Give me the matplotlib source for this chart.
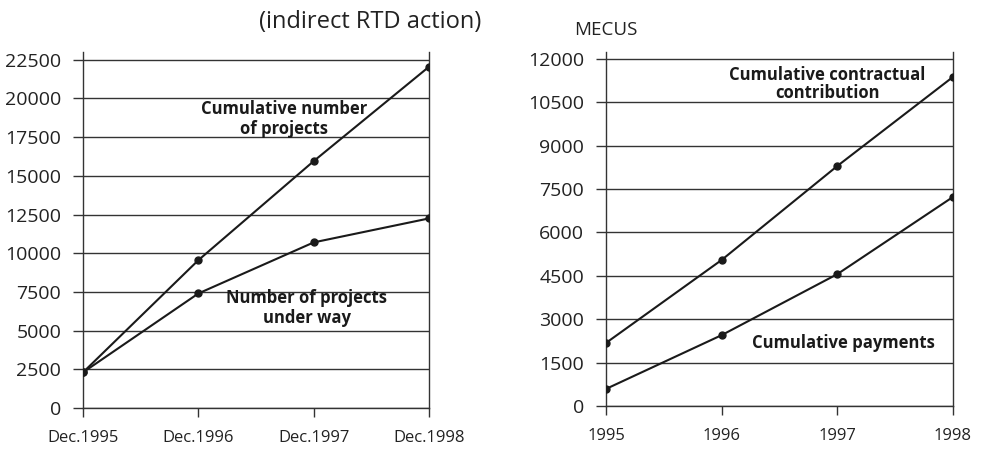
import matplotlib
matplotlib.use("Agg")
import matplotlib.pyplot as plt

plt.rcParams['font.family'] = ['Open Sans', 'DejaVu Sans']

left_cats = ["Dec.1995", "Dec.1996", "Dec.1997", "Dec.1998"]
cum_projects = [2300, 9550, 15950, 22050]
projects_underway = [2300, 7400, 10700, 12250]
left_yticks = [0, 2500, 5000, 7500, 10000, 12500, 15000, 17500, 20000, 22500]

right_cats = ["1995", "1996", "1997", "1998"]
cum_contract = [2180, 5050, 8300, 11380]
cum_payments = [590, 2450, 4560, 7230]
right_yticks = [0, 1500, 3000, 4500, 6000, 7500, 9000, 10500, 12000]

fig = plt.figure(figsize=(9.82, 4.5), dpi=100)
axL = fig.add_axes([0.0845, 0.0933, 0.3524, 0.7911])
axR = fig.add_axes([0.6171, 0.0978, 0.3534, 0.7866])

def style(ax, cats, yticks, ytop, xfs):
    x = list(range(len(cats)))
    ax.set_xlim(0, len(cats) - 1)
    ax.set_ylim(0, ytop)
    ax.set_xticks(x)
    ax.set_xticklabels(cats, fontsize=xfs, color="#222222")
    ax.set_yticks(yticks)
    ax.set_yticklabels([str(v) for v in yticks], fontsize=14, color="#222222")
    for v in yticks:
        ax.axhline(v, color="#333333", lw=1.0, zorder=1)
    ax.spines['top'].set_visible(False)
    for s in ['left', 'right', 'bottom']:
        ax.spines[s].set_color("#333333")
        ax.spines[s].set_linewidth(1.0)
    ax.tick_params(axis='y', direction='out', length=7.2, width=1.0, color="#333333", pad=8.5)
    ax.tick_params(axis='x', direction='out', length=6.5, width=1.0, color="#333333", pad=9.5)
    return x

x = style(axL, left_cats, left_yticks, 23000, 12)
axL.plot(x, cum_projects, color="#1a1a1a", lw=1.5, marker='o', ms=5, zorder=3)
axL.plot(x, projects_underway, color="#1a1a1a", lw=1.5, marker='o', ms=5, zorder=3)
axL.text(1.743, 18700, "Cumulative number\nof projects", ha='center', va='center',
         fontsize=12, fontweight='bold', linespacing=1.15, color="#1a1a1a", zorder=2)
axL.text(1.942, 6450, "Number of projects\nunder way", ha='center', va='center',
         fontsize=12, fontweight='bold', linespacing=1.15, color="#1a1a1a", zorder=2)

x = style(axR, right_cats, right_yticks, 12240, 12)
axR.plot(x, cum_contract, color="#1a1a1a", lw=1.5, marker='o', ms=5, zorder=3)
axR.plot(x, cum_payments, color="#1a1a1a", lw=1.5, marker='o', ms=5, zorder=3)
axR.text(1.911, 11140, "Cumulative contractual\ncontribution", ha='center', va='center',
         fontsize=12, fontweight='bold', linespacing=1.0, color="#1a1a1a", zorder=2)
axR.text(2.05, 2180, "Cumulative payments", ha='center', va='center',
         fontsize=12, fontweight='bold', color="#1a1a1a", zorder=2)

fig.text(0.377, 0.951, "(indirect RTD action)", ha='center', va='center',
         fontsize=17, color="#222222")
fig.text(0.617, 0.933, "MECUS", ha='center', va='center', fontsize=13.5, color="#222222")

fig.savefig("out.png", dpi=100)
